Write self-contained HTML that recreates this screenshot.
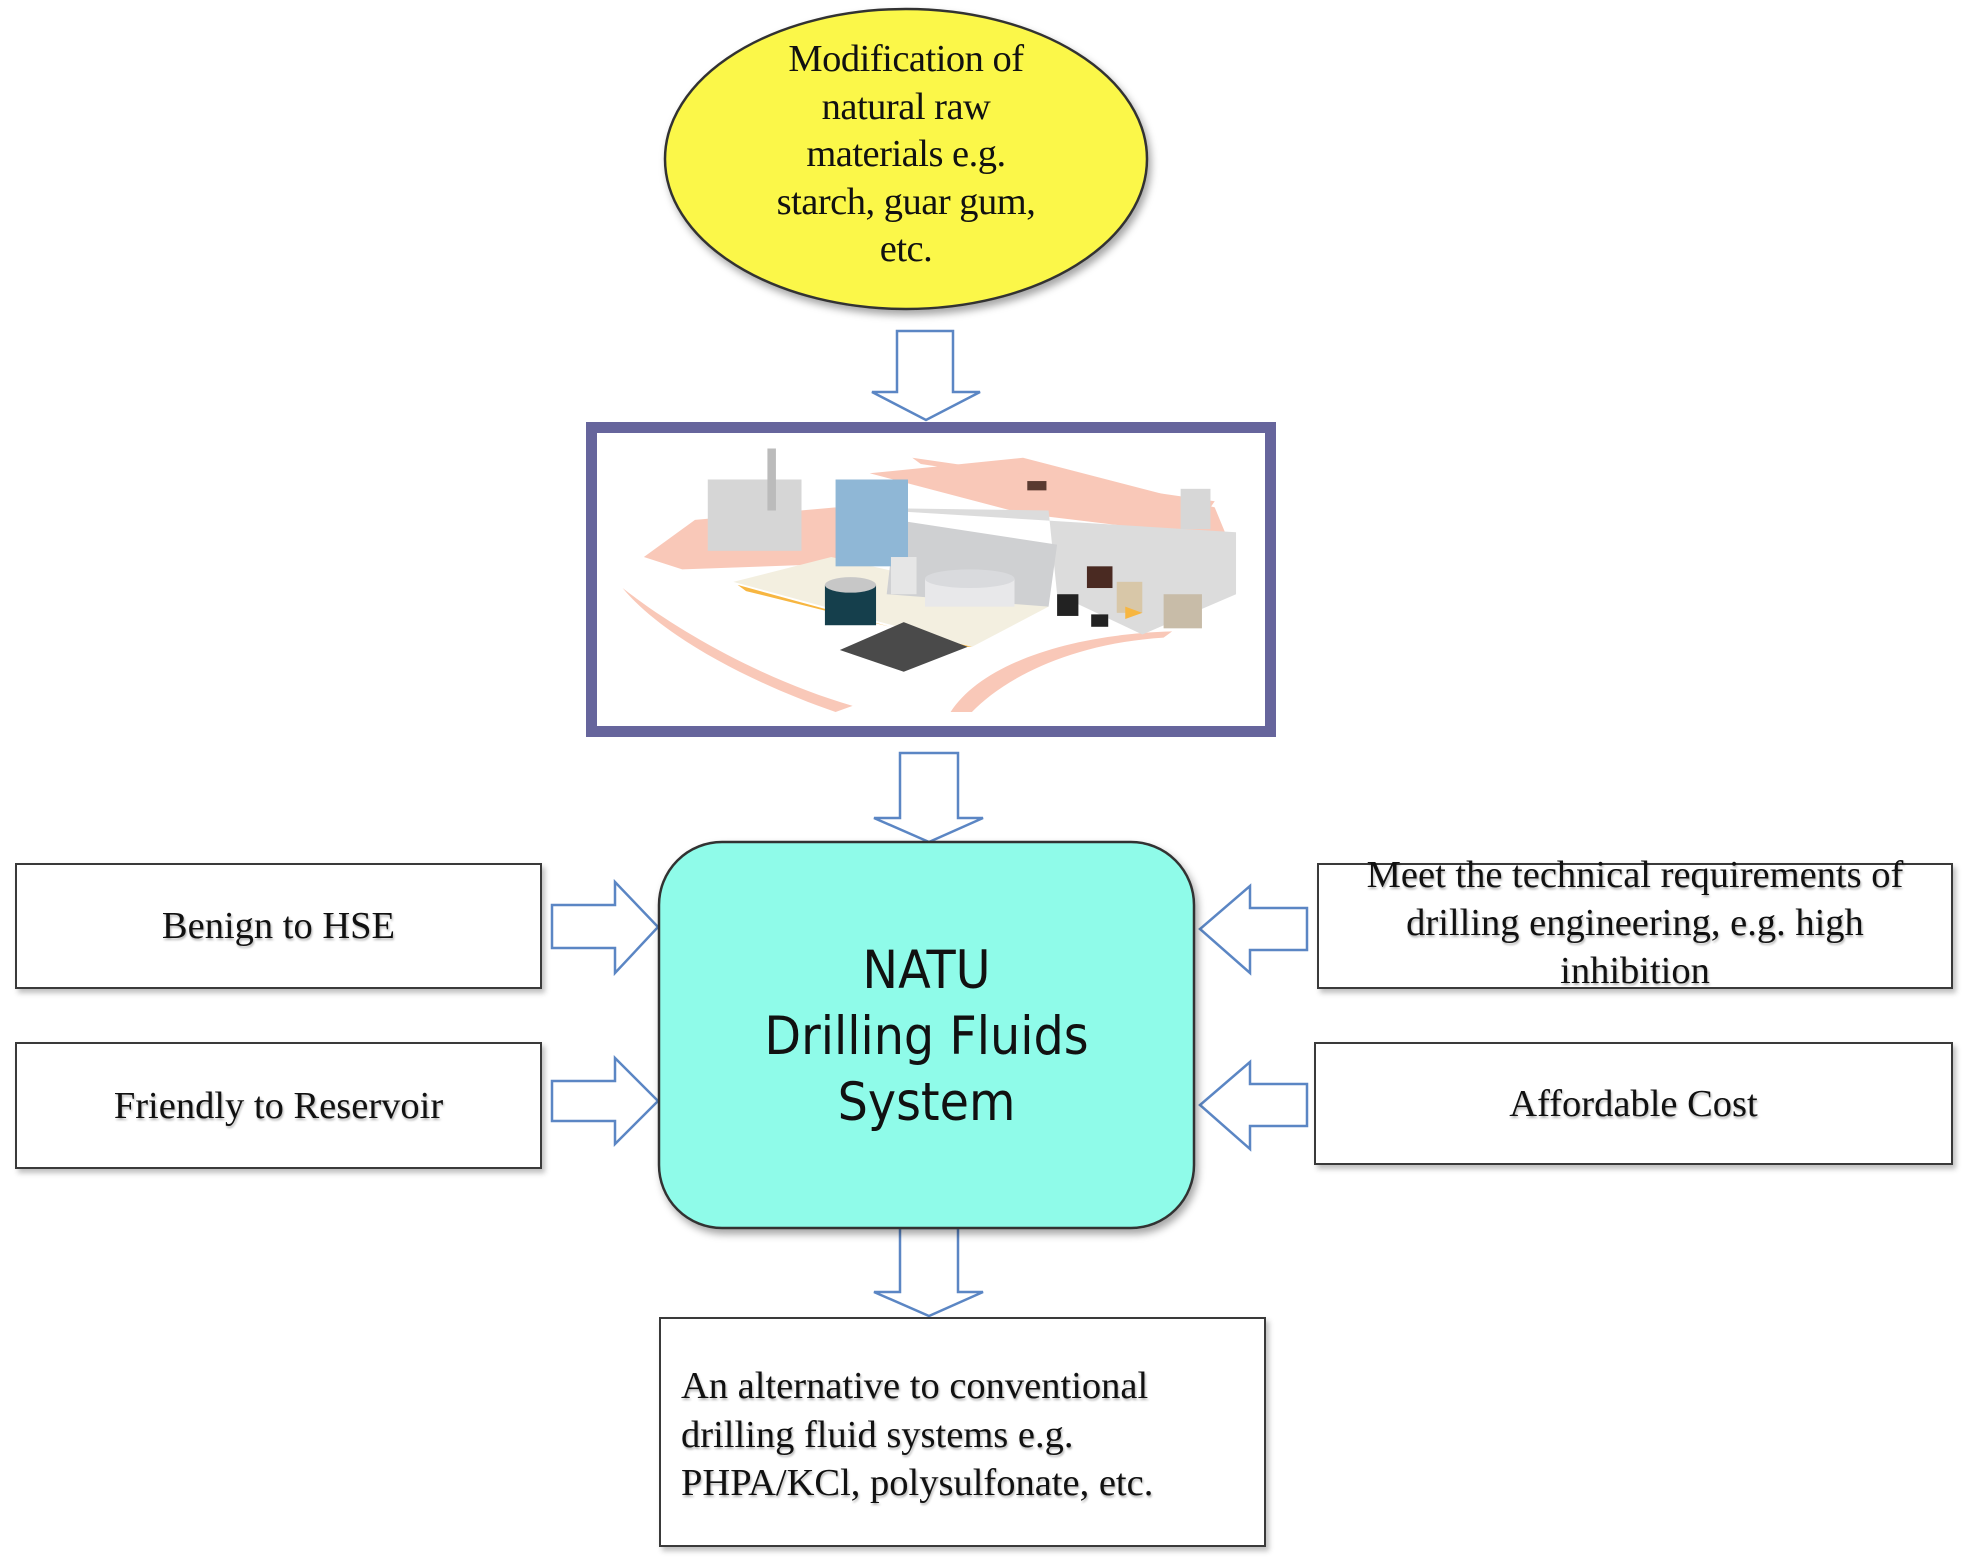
<!DOCTYPE html>
<html><head><meta charset="utf-8"><style>
html,body{margin:0;padding:0;background:#fff;}
body{width:1976px;height:1568px;position:relative;overflow:hidden;font-family:"Liberation Serif",serif;color:#111;}
.box{position:absolute;box-sizing:border-box;border:2.5px solid #3a3a3a;background:#fff;box-shadow:3px 4px 5px rgba(0,0,0,0.25);display:flex;align-items:center;justify-content:center;text-align:center;font-size:38.5px;line-height:48px;text-shadow:1px 2px 2px rgba(0,0,0,0.3);white-space:nowrap;}
svg{position:absolute;left:0;top:0;}
</style></head><body>
<svg width="1976" height="1568" viewBox="0 0 1976 1568">
<defs><filter id="sh" x="-10%" y="-10%" width="130%" height="130%"><feDropShadow dx="3" dy="5" stdDeviation="4" flood-opacity="0.35"/></filter></defs>
<ellipse cx="906" cy="159" rx="241" ry="150" fill="#fbf74a" stroke="#333" stroke-width="2.5" filter="url(#sh)"/>
<g fill="#fff" stroke="#5b86c4" stroke-width="2.5">
<polygon points="897,331 953,331 953,392 980,392 926,420 872,392 897,392"/>
<polygon points="900,753 958,753 958,818 983,818 929,842 874,818 900,818"/>
<polygon points="900,1228 958,1228 958,1292 983,1292 929,1316 874,1292 900,1292"/>
<polygon points="552,905 615,905 615,882 658,927 615,973 615,948 552,948"/>
<polygon points="552,1081 615,1081 615,1058 658,1101 615,1144 615,1121 552,1121"/>
<polygon points="1307,908 1250,908 1250,886 1200,929 1250,973 1250,950 1307,950"/>
<polygon points="1307,1084 1250,1084 1250,1062 1200,1105 1250,1149 1250,1126 1307,1126"/>
</g>
<rect x="659" y="842" width="535" height="386" rx="63" fill="#8ffbe9" stroke="#333" stroke-width="2.5" filter="url(#sh)"/>
<rect x="591.5" y="427.5" width="679" height="304" fill="#fff" stroke="#66659c" stroke-width="11"/>
<svg x="597" y="433" width="668" height="293" viewBox="0 0 1568 945" preserveAspectRatio="none">
<g fill="#f9c8b8">
<path d="M110,400 L230,280 L560,240 L600,420 L200,440 Z"/>
<path d="M640,130 L1000,80 L1450,240 L1480,340 L1000,260 Z"/>
<path d="M60,500 C200,650 400,800 600,880 L560,900 C350,800 150,650 60,500 Z"/>
<path d="M830,900 C900,750 1100,650 1350,640 L1330,660 C1100,680 950,800 880,900 Z"/>
<path d="M740,80 L1450,220 L1440,240 L760,100 Z"/>
</g>
<path d="M320,480 L550,400 L1060,560 L880,690 Z" fill="#f3efe0"/>
<path d="M330,490 L860,690 L880,690 L350,510 Z" fill="#f7b641"/>
<path d="M560,240 L1500,320 L1500,520 L1280,650 L1080,520 L1060,250 Z" fill="#dcdcdc"/>
<path d="M700,280 L1080,360 L1060,560 L680,520 Z" fill="#cfd0d2"/>
<rect x="560" y="150" width="170" height="280" fill="#8fb7d6"/>
<rect x="260" y="150" width="220" height="230" fill="#d6d6d6"/>
<rect x="400" y="50" width="20" height="200" fill="#bbb"/>
<rect x="1370" y="180" width="70" height="130" fill="#d7d7d7"/>
<path d="M770,470 L980,470 L980,560 L770,560 Z" fill="#e8e8ea"/>
<ellipse cx="875" cy="470" rx="105" ry="30" fill="#d9dadd"/>
<rect x="535" y="490" width="120" height="130" fill="#153f4c"/>
<ellipse cx="595" cy="490" rx="60" ry="25" fill="#c7c7c7"/>
<rect x="690" y="400" width="60" height="120" fill="#e6e6e6"/>
<rect x="1150" y="430" width="60" height="70" fill="#4a2a22"/>
<rect x="1220" y="480" width="60" height="100" fill="#d8c7a8"/>
<rect x="1330" y="520" width="90" height="110" fill="#c8bca8"/>
<path d="M1240,560 L1280,580 L1240,600 Z" fill="#f7b641"/>
<path d="M570,700 L720,610 L870,690 L720,770 Z" fill="#4a4a4a"/>
<rect x="1010" y="155" width="45" height="30" fill="#5a3a30"/>
<rect x="1080" y="520" width="50" height="70" fill="#222"/>
<rect x="1160" y="585" width="40" height="40" fill="#222"/>
</svg>
</svg>
<div style="position:absolute;left:665px;top:36px;width:482px;text-align:center;font-size:38.5px;line-height:47.5px;letter-spacing:-0.5px;">Modification of<br>natural raw<br>materials e.g.<br>starch, guar gum,<br>etc.</div>
<div style="position:absolute;left:659px;top:938px;width:535px;text-align:center;font-family:'DejaVu Sans Condensed','DejaVu Sans',sans-serif;font-size:53px;line-height:66px;">NATU<br>Drilling Fluids<br>System</div>
<div class="box" style="left:15px;top:863px;width:527px;height:126px;">Benign to HSE</div>
<div class="box" style="left:15px;top:1042px;width:527px;height:127px;">Friendly to Reservoir</div>
<div class="box" style="left:1317px;top:863px;width:636px;height:126px;line-height:48px;align-items:flex-start;"><div style="margin-top:-14px">Meet the technical requirements of<br>drilling engineering, e.g. high<br>inhibition</div></div>
<div class="box" style="left:1314px;top:1042px;width:639px;height:123px;">Affordable Cost</div>
<div class="box" style="left:659px;top:1317px;width:607px;height:230px;justify-content:flex-start;text-align:left;padding-left:20px;align-items:flex-start;"><div style="margin-top:43px;line-height:48.5px">An alternative to conventional<br>drilling fluid systems e.g.<br>PHPA/KCl, polysulfonate, etc.</div></div>
</body></html>
